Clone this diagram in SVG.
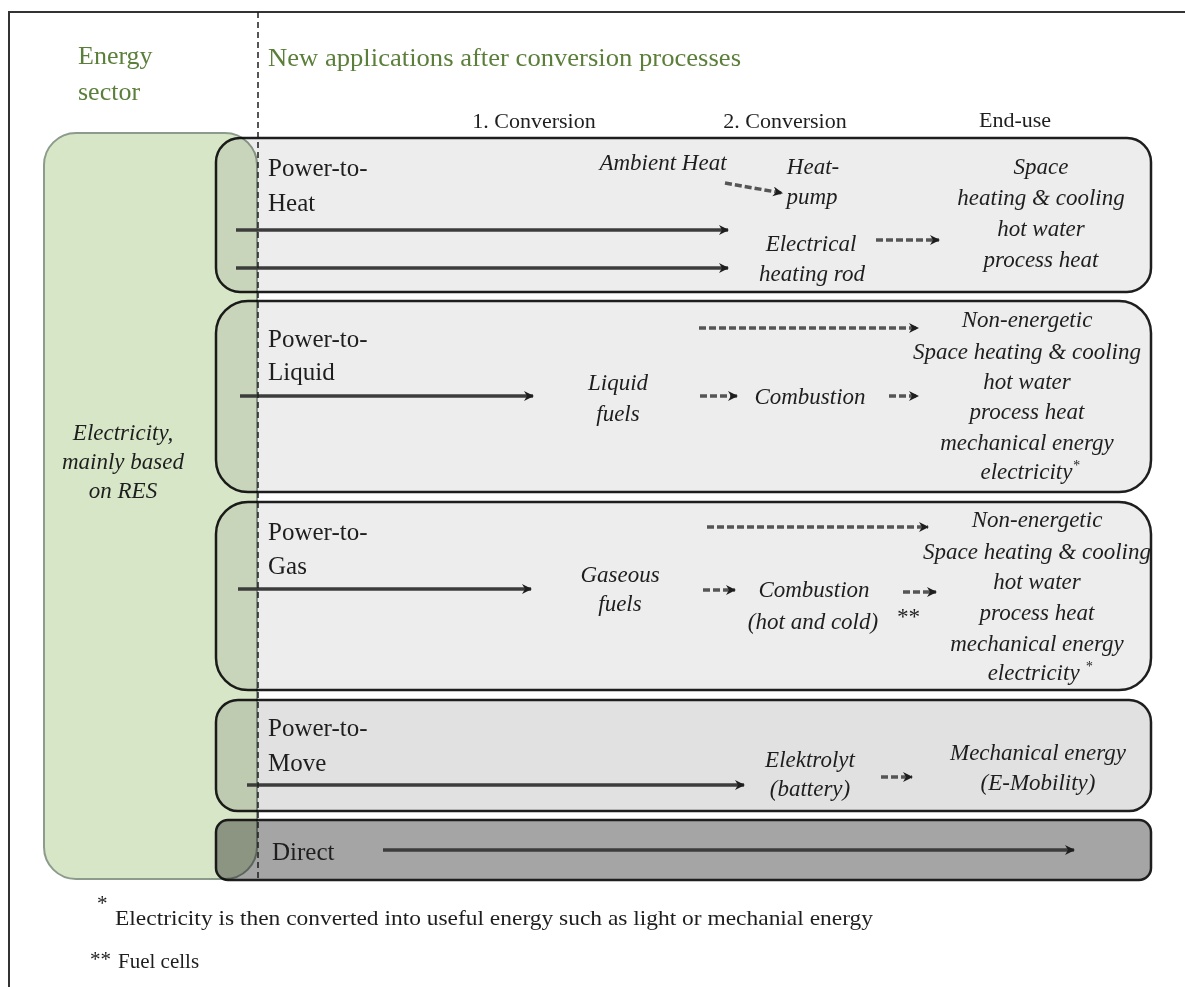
<svg xmlns="http://www.w3.org/2000/svg" width="1185" height="987" viewBox="0 0 1185 987">
<style>
.frame{fill:none;stroke:#333;stroke-width:2}
.box{stroke:#1e1e1e;stroke-width:2.5}
.lbl{font-family:"Liberation Serif",serif;font-size:25px;fill:#1e1e1e}
.hdr{font-family:"Liberation Serif",serif;font-size:26px;fill:#5b7f3a}
.col{font-family:"Liberation Serif",serif;font-size:22px;fill:#1e1e1e}
.it{font-family:"Liberation Serif",serif;font-size:23px;font-style:italic;fill:#1e1e1e}
.fn{font-family:"Liberation Serif",serif;font-size:21px;fill:#1e1e1e}
.sup{font-size:14px}
.solid{stroke:#3c3c3c;stroke-width:3.5;fill:none;marker-end:url(#ah)}
.dash{stroke:#555;stroke-width:3.5;stroke-dasharray:7 3;fill:none;marker-end:url(#ah)}
.c{text-anchor:middle}
</style>
<defs>
<marker id="ah" markerUnits="userSpaceOnUse" markerWidth="12" markerHeight="12" refX="9" refY="5" orient="auto">
<path d="M0,0 L10,5 L0,10 L3,5 z" fill="#1e1e1e"/>
</marker>
</defs>
<rect width="1185" height="987" fill="#fff"/>
<path class="frame" d="M9,987 L9,12 L1185,12"/>
<g id="headers">
<text class="hdr" x="78" y="64">Energy</text>
<text class="hdr" x="78" y="100">sector</text>
<text class="hdr" x="268" y="66" textLength="473" lengthAdjust="spacingAndGlyphs">New applications after conversion processes</text>
<text class="col c" x="534" y="128">1. Conversion</text>
<text class="col c" x="785" y="128">2. Conversion</text>
<text class="col c" x="1015" y="127">End-use</text>
</g>
<g id="power-to-heat">
<rect class="box" x="216" y="138" width="935" height="154" rx="24" fill="#ededed"/>
<text class="lbl" x="268" y="176">Power-to-</text>
<text class="lbl" x="268" y="211">Heat</text>
<text class="it c" x="663" y="170">Ambient Heat</text>
<text class="it c" x="813" y="174">Heat-</text>
<text class="it c" x="812" y="204">pump</text>
<text class="it c" x="811" y="251">Electrical</text>
<text class="it c" x="812" y="281">heating rod</text>
<text class="it c" x="1041" y="174">Space</text>
<text class="it c" x="1041" y="205">heating &amp; cooling</text>
<text class="it c" x="1041" y="236">hot water</text>
<text class="it c" x="1041" y="267">process heat</text>
</g>
<g id="power-to-liquid">
<rect class="box" x="216" y="301" width="935" height="191" rx="32" fill="#ededed"/>
<text class="lbl" x="268" y="347">Power-to-</text>
<text class="lbl" x="268" y="380">Liquid</text>
<text class="it c" x="618" y="390">Liquid</text>
<text class="it c" x="618" y="421">fuels</text>
<text class="it c" x="810" y="404">Combustion</text>
<text class="it c" x="1027" y="327">Non-energetic</text>
<text class="it c" x="1027" y="359">Space heating &amp; cooling</text>
<text class="it c" x="1027" y="389">hot water</text>
<text class="it c" x="1027" y="419">process heat</text>
<text class="it c" x="1027" y="450">mechanical energy</text>
<text class="it c" x="1030" y="479">electricity<tspan class="sup" dy="-9">*</tspan></text>
</g>
<g id="power-to-gas">
<rect class="box" x="216" y="502" width="935" height="188" rx="32" fill="#ededed"/>
<text class="lbl" x="268" y="540">Power-to-</text>
<text class="lbl" x="268" y="574">Gas</text>
<text class="it c" x="620" y="582">Gaseous</text>
<text class="it c" x="620" y="611">fuels</text>
<text class="it c" x="814" y="597">Combustion</text>
<text class="it c" x="813" y="629">(hot and cold)</text>
<text class="it" x="896" y="624" font-size="15">**</text>
<text class="it c" x="1037" y="527">Non-energetic</text>
<text class="it c" x="1037" y="559">Space heating &amp; cooling</text>
<text class="it c" x="1037" y="589">hot water</text>
<text class="it c" x="1037" y="620">process heat</text>
<text class="it c" x="1037" y="651">mechanical energy</text>
<text class="it c" x="1040" y="680">electricity <tspan class="sup" dy="-9">*</tspan></text>
</g>
<g id="power-to-move">
<rect class="box" x="216" y="700" width="935" height="111" rx="22" fill="#e1e1e1"/>
<text class="lbl" x="268" y="736">Power-to-</text>
<text class="lbl" x="268" y="771">Move</text>
<text class="it c" x="810" y="767">Elektrolyt</text>
<text class="it c" x="810" y="796">(battery)</text>
<text class="it c" x="1038" y="760">Mechanical energy</text>
<text class="it c" x="1038" y="790">(E-Mobility)</text>
</g>
<g id="direct">
<rect class="box" x="216" y="820" width="935" height="60" rx="12" fill="#a5a5a5"/>
<text class="lbl" x="272" y="860">Direct</text>
</g>
<g id="energy-sector">
<rect x="44" y="133" width="213" height="746" rx="32" fill="#d8e6c8" stroke="#8c9c8c" stroke-width="2" style="mix-blend-mode:multiply"/>
<text class="it c" x="123" y="440" font-size="22">Electricity,</text>
<text class="it c" x="123" y="469" font-size="22">mainly based</text>
<text class="it c" x="123" y="498" font-size="22">on RES</text>
</g>
<g id="connectors">
<line class="solid" x1="236" y1="230" x2="728" y2="230"/>
<line class="solid" x1="236" y1="268" x2="728" y2="268"/>
<line class="dash" x1="725" y1="183" x2="782" y2="193"/>
<line class="dash" x1="876" y1="240" x2="939" y2="240"/>
<line class="solid" x1="240" y1="396" x2="533" y2="396"/>
<line class="dash" x1="699" y1="328" x2="918" y2="328"/>
<line class="dash" x1="700" y1="396" x2="737" y2="396"/>
<line class="dash" x1="889" y1="396" x2="918" y2="396"/>
<line class="solid" x1="238" y1="589" x2="531" y2="589"/>
<line class="dash" x1="707" y1="527" x2="928" y2="527"/>
<line class="dash" x1="703" y1="590" x2="735" y2="590"/>
<line class="dash" x1="903" y1="592" x2="936" y2="592"/>
<line class="solid" x1="247" y1="785" x2="744" y2="785"/>
<line class="dash" x1="881" y1="777" x2="912" y2="777"/>
<line class="solid" x1="383" y1="850" x2="1074" y2="850"/>
</g>
<line x1="258" y1="12" x2="258" y2="881" stroke="#1e1e1e" stroke-width="1.5" stroke-dasharray="6 4"/>
<g id="footnotes">
<text class="fn" x="97" y="910" font-size="15">*</text>
<text class="fn" x="115" y="925" textLength="758" lengthAdjust="spacingAndGlyphs">Electricity is then converted into useful energy such as light or mechanial energy</text>
<text class="fn" x="90" y="966" font-size="15">**</text>
<text class="fn" x="118" y="968">Fuel cells</text>
</g>
</svg>
